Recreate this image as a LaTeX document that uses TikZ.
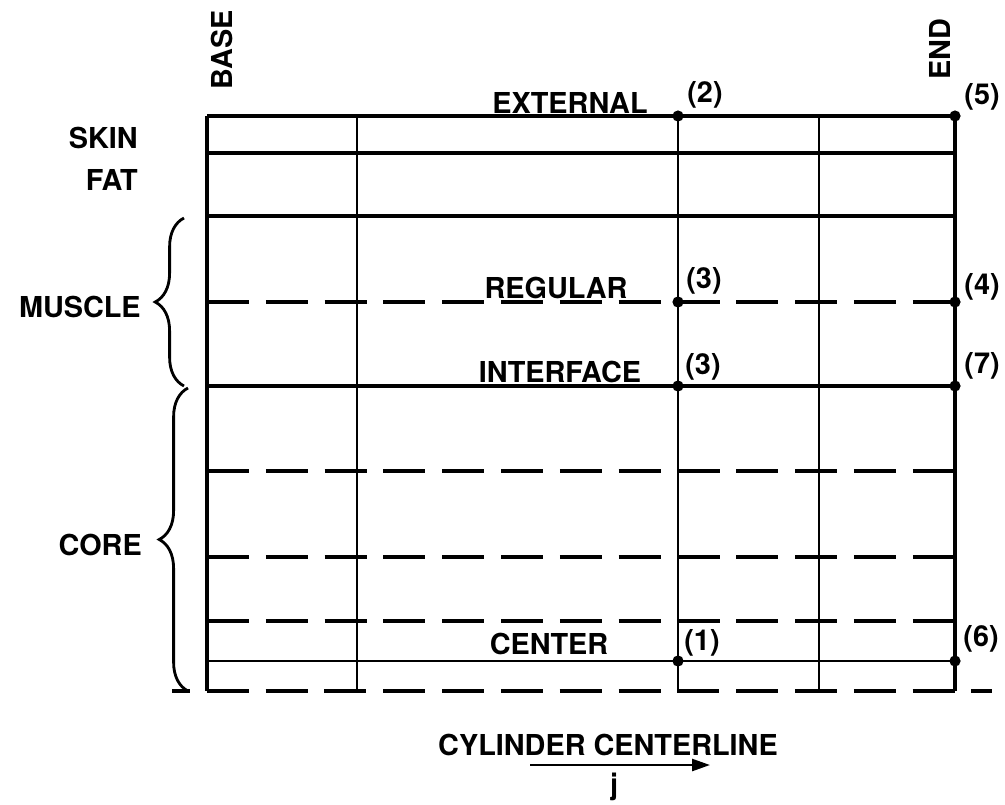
\documentclass[tikz,border=0pt]{standalone}
\usepackage{fontspec}
\setmainfont{TeX Gyre Heros}
\usetikzlibrary{positioning,arrows.meta,decorations.pathreplacing}

\begin{document}
\begin{tikzpicture}[x=0.025cm, y=-0.025cm,
    lbl/.style={font=\fontsize{20.5}{24}\selectfont\bfseries, inner sep=0pt},
    solidrow/.style={line width=2.2pt},
    dashrow/.style={line width=2.6pt, dash pattern=on 1.05cm off 0.42cm},
    col/.style={line width=1.5pt},
    knot/.style={circle, fill, inner sep=0pt, minimum size=0.28cm},
    bracket/.style={decorate, decoration={brace, amplitude=0.72cm}, line width=2pt}]
\useasboundingbox (0,0) rectangle (1005,804);
% rows
\draw[solidrow] (207,116) -- (955,116);
\draw[solidrow] (207,153) -- (955,153);
\draw[solidrow] (207,216) -- (955,216);
\draw[dashrow] (207,302) -- (955,302);
\draw[solidrow] (207,386) -- (955,386);
\draw[dashrow] (207,471) -- (955,471);
\draw[dashrow] (207,557) -- (955,557);
\draw[dashrow] (207,621) -- (955,621);
\draw[line width=1.6pt] (207,661) -- (955,661);
\draw[dashrow, dash phase=0.6cm] (172,691) -- (992,691);
% columns
\draw[line width=2.4pt] (207,116) -- (207,691);
\draw[col] (357,116) -- (357,691);
\draw[col] (678,116) -- (678,691);
\draw[col] (819,116) -- (819,691);
\draw[line width=2.4pt] (955,116) -- (955,691);
% points
\node[knot] (d2) at (678,116) {};
\node[knot] (d5) at (955,116) {};
\node[knot] (d3a) at (678,302) {};
\node[knot] (d4) at (955,302) {};
\node[knot] (d3b) at (678,386) {};
\node[knot] (d7) at (955,386) {};
\node[knot] (d1) at (678,661) {};
\node[knot] (d6) at (955,661) {};
\node[lbl] (n2) at (705,95) {(2)};
\node[lbl] (n5) at (982,97) {(5)};
\node[lbl] (n3a) at (704,281) {(3)};
\node[lbl] (n4) at (982,287) {(4)};
\node[lbl] (n3b) at (703,367) {(3)};
\node[lbl] (n7) at (982,366) {(7)};
\node[lbl] (n1) at (702,643) {(1)};
\node[lbl] (n6) at (981,639) {(6)};
% row names
\node[lbl, anchor=south] (ext) at (570,114) {EXTERNAL};
\node[lbl, anchor=south] (reg) at (556,299) {REGULAR};
\node[lbl, anchor=south] (intf) at (560,383) {INTERFACE};
\node[lbl, anchor=south] (cen) at (549,655) {CENTER};
% ends
\node[lbl, rotate=90] (base) at (222,50) {BASE};
\node[lbl, rotate=90] (end) at (940,49) {END};
% layers
\node[lbl, anchor=east] (skin) at (138,138) {SKIN};
\node[lbl, anchor=east] (fat) at (138,180) {FAT};
\node[lbl, anchor=east] (mus) at (141,307) {MUSCLE};
\node[lbl, anchor=east] (core) at (142,545) {CORE};
\draw[bracket] (184,386) -- (184,218);
\draw[bracket] (188,691) -- (188,388);
% axis
\node[lbl] (cyl) at (608,745) {CYLINDER CENTERLINE};
\coordinate (ax0) at (530,765);
\coordinate (ax1) at (710,765);
\draw[-{Triangle[length=0.45cm,width=0.3cm]}, line width=1.8pt] (ax0) -- (ax1);
\node[lbl] (j) at (614,787) {j};
\end{tikzpicture}
\end{document}
